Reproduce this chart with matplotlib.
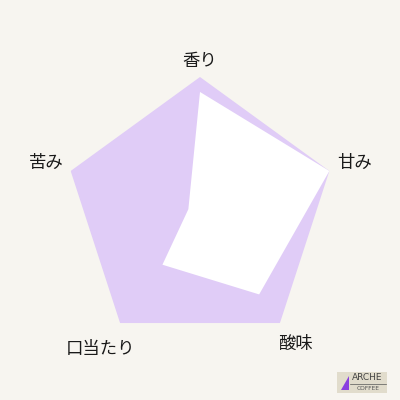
import numpy as np
import matplotlib
matplotlib.use("Agg")
import matplotlib.pyplot as plt
from matplotlib.patches import Rectangle, Polygon
from matplotlib.lines import Line2D

plt.rcParams['font.family'] = ['Noto Sans CJK JP', 'DejaVu Sans']

categories = ["香り", "甘み", "酸味", "口当たり", "苦み"]
values = [4.45, 5.0, 3.7, 2.35, 0.45]
max_value = 5.0
label_radius = [5.6, 5.98, 5.97, 6.2, 5.94]

bg = "#F7F5F0"
purple = "#E0CCF7"

fig = plt.figure(figsize=(4, 4), dpi=100, facecolor=bg)
ax = fig.add_axes([0.16, 0.1275, 0.68, 0.68], projection="polar")
ax.set_facecolor("none")
ax.set_theta_offset(np.pi / 2)
ax.set_theta_direction(-1)

n = len(categories)
angles = np.linspace(0, 2 * np.pi, n, endpoint=False)
ang_c = np.concatenate([angles, angles[:1]])

outer = [max_value] * n
ax.fill(ang_c, outer + outer[:1], color=purple, lw=0, zorder=1)
ax.fill(ang_c, values + values[:1], color="white", lw=0, zorder=2)

ax.set_ylim(0, max_value)
ax.grid(False)
ax.spines["polar"].set_visible(False)
ax.set_xticks([])
ax.set_yticks([])

for a, lab, r in zip(angles, categories, label_radius):
    ax.text(a, r, lab, ha="center", va="center", fontsize=12.5,
            color="#1a1a1a", clip_on=False)

# logo
fig.patches.append(Rectangle((337 / 400, 1 - 393 / 400), 50 / 400, 21 / 400,
                             transform=fig.transFigure, facecolor="#E1DCCC",
                             edgecolor="none"))
fig.patches.append(Polygon([(341 / 400, 1 - 390 / 400), (349 / 400, 1 - 376 / 400),
                            (349 / 400, 1 - 390 / 400)],
                           closed=True, transform=fig.transFigure,
                           facecolor="#8A3FE0", edgecolor="none"))
fig.lines.append(Line2D([350 / 400, 386 / 400], [1 - 383.5 / 400, 1 - 383.5 / 400],
                        transform=fig.transFigure, color="#555555", lw=0.5))
fig.text(367 / 400, 1 - 378 / 400, "ARCHE", ha="center", va="center",
         fontsize=6.5, color="#444444", family="DejaVu Sans")
fig.text(368 / 400, 1 - 388.5 / 400, "COFFEE", ha="center", va="center",
         fontsize=4.2, color="#555555", family="DejaVu Sans")

fig.savefig("out.png", dpi=100, facecolor=bg)
